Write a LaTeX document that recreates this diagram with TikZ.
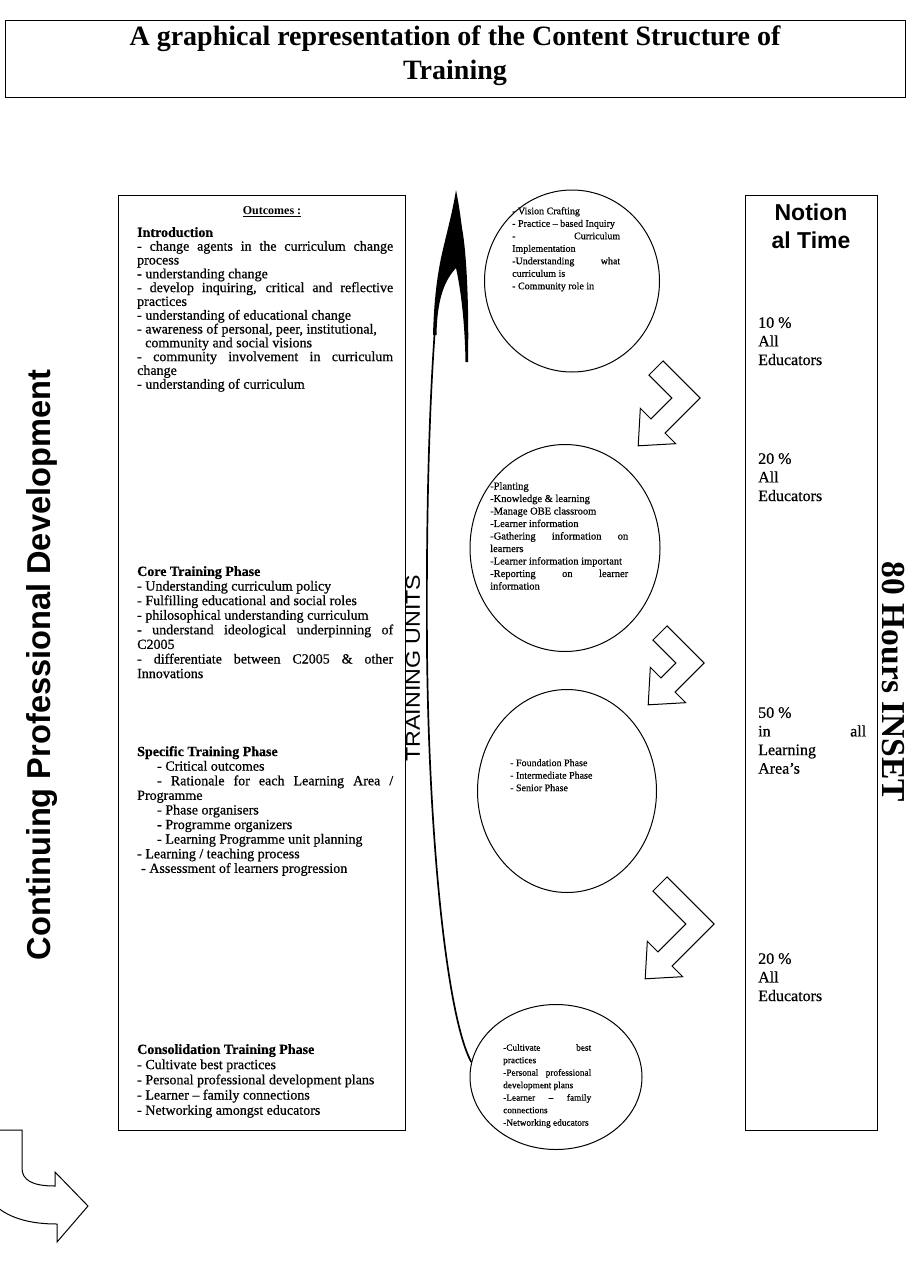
\documentclass[tikz,border=0pt]{standalone}
\usepackage{fontspec}
\setmainfont{Liberation Serif}
\newfontfamily\scan{Liberation Serif}[FakeBold=0.6]
\newfontfamily\arialfont{Liberation Sans}
\usetikzlibrary{shapes.geometric}
\newcommand\jl[2]{\makebox[#1][s]{#2}}
% chevron block arrow: #1,#2 origin, #3 first leg, #4 second leg
\newcommand\chev[4]{%
\begin{scope}[shift={(#1,#2)}]
\draw[harrow] (7.07,-7.07) -- ({#3+14.14},{#3}) -- ({#3-#4+7.07},{#3+#4+7.07})
 -- ({#3-#4+17.68},{#3+#4+17.68}) -- ({#3-#4-19.8},{#3+#4+19.8})
 -- ({#3-#4-17.68},{#3+#4-17.68}) -- ({#3-#4-7.07},{#3+#4-7.07})
 -- ({#3-14.14},{#3}) -- (-7.07,7.07) -- cycle;
\end{scope}}
\begin{document}
\begin{tikzpicture}[x=1pt,y=-1pt,
  box/.style={draw, line width=1.1pt, inner sep=0pt, anchor=north west},
  body/.style={anchor=north west, inner sep=0pt, align=left, font=\scan\fontsize{14}{14.6}\selectfont},
  ctext/.style={anchor=north west, inner sep=0pt, align=left, font=\scan\fontsize{10}{12.5}\selectfont},
  rtext/.style={anchor=north west, inner sep=0pt, align=left, font=\scan\fontsize{16}{18.6}\selectfont},
  blob/.style={draw, line width=1pt, ellipse, inner sep=0pt},
  harrow/.style={draw, line width=1pt, fill=white, line join=miter},
]
\useasboundingbox (0,0) rectangle (909,1285);
\fill[white] (0,0) rectangle (909,1285);

% title
\node[box, line width=1.3pt, minimum width=900pt, minimum height=77pt] (title) at (5,20) {};
\node[inner sep=0pt, align=center, font=\bfseries\fontsize{28}{34}\selectfont] (ttext) at (455,56)
 {A graphical representation of the Content Structure of\\Training};

% left box
\node[box, minimum width=287pt, minimum height=935pt] (leftbox) at (118,195) {};
\node[inner sep=0pt, font=\bfseries\fontsize{12}{14}\selectfont] (outc) at (272,212) {\underline{Outcomes :}};

\node[body, font=\scan\fontsize{14}{13.8}\selectfont] (intro) at (137,227) {\textbf{Introduction}\\
\jl{256pt}{- change agents in the curriculum change}\\
process\\
- understanding change\\
\jl{256pt}{- develop inquiring, critical and reflective}\\
practices\\
- understanding of educational change\\
- awareness of personal, peer, institutional,\\
\hspace*{8pt}community and social visions\\
\jl{256pt}{- community involvement in curriculum}\\
change\\
- understanding of curriculum};

\node[body] (core) at (137,566) {\textbf{Core Training Phase}\\
- Understanding curriculum policy\\
- Fulfilling educational and social roles\\
- philosophical understanding curriculum\\
\jl{256pt}{- understand ideological underpinning of}\\
C2005\\
\jl{256pt}{- differentiate between C2005 \& other}\\
Innovations};

\node[body] (spec) at (137,746) {\textbf{Specific Training Phase}\\
\hspace*{20pt}- Critical outcomes\\
\hspace*{20pt}\jl{236pt}{- Rationale for each Learning Area /}\\
Programme\\
\hspace*{20pt}- Phase organisers\\
\hspace*{20pt}- Programme organizers\\
\hspace*{20pt}- Learning Programme unit planning\\
- Learning / teaching process\\
\hspace*{4pt}- Assessment of learners progression};

\node[body, font=\scan\fontsize{14}{15.2}\selectfont] (cons) at (137,1044) {\textbf{Consolidation Training Phase}\\
- Cultivate best practices\\
- Personal professional development plans\\
- Learner – family connections\\
- Networking amongst educators};

% side labels
\node[rotate=90, inner sep=0pt] (cpd) at (42,665)
 {\resizebox*{590pt}{31pt}{\arialfont\bfseries Continuing Professional Development}};
\node[rotate=90, inner sep=0pt] (tu) at (413,668)
 {\resizebox{187pt}{14pt}{\arialfont TRAINING UNITS}};

% right box
\node[box, minimum width=132pt, minimum height=935pt] (rightbox) at (745,195) {};
\node[inner sep=0pt, align=center, font=\arialfont\bfseries\fontsize{23}{28}\selectfont] (notion) at (811,226) {Notion\\al Time};
\node[rtext] (r1) at (758,317) {10 \%\\All\\Educators};
\node[rtext] (r2) at (758,453) {20 \%\\All\\Educators};
\node[rtext] (r3) at (758,707) {50 \%\\\jl{108pt}{in all}\\Learning\\Area’s};
\node[rtext] (r4) at (758,953) {20 \%\\All\\Educators};
\node[rotate=-90, inner sep=0pt] (inset) at (893,682)
 {\resizebox{240pt}{!}{\bfseries 80 Hours INSET}};

% circles
\node[blob, minimum width=175pt, minimum height=182pt] (c1) at (572,281) {};
\node[blob, minimum width=190pt, minimum height=207pt] (c2) at (565,548) {};
\node[blob, minimum width=179pt, minimum height=203pt] (c3) at (567,791) {};
\node[blob, minimum width=172pt, minimum height=145pt] (c4) at (556,1077) {};

\node[ctext] (t1) at (512,207) {- Vision Crafting\\
- Practice – based Inquiry\\
\jl{108pt}{- \hfill Curriculum}\\
Implementation\\
\jl{108pt}{-Understanding \hfill what}\\
curriculum is\\
- Community role in};

\node[ctext, font=\scan\fontsize{10.5}{12.5}\selectfont] (t2) at (490,482) {-Planting\\
-Knowledge \& learning\\
-Manage OBE classroom\\
-Learner information\\
\jl{138pt}{-Gathering information on}\\
learners\\
-Learner information important\\
\jl{138pt}{-Reporting on learner}\\
information};

\node[ctext] (t3) at (510,759) {- Foundation Phase\\
- Intermediate Phase\\
- Senior Phase};

\node[ctext, font=\scan\fontsize{9.3}{12.5}\selectfont] (t4) at (503,1044) {\jl{88pt}{-Cultivate best}\\
practices\\
\jl{88pt}{-Personal professional}\\
development plans\\
\jl{88pt}{-Learner – family}\\
connections\\
-Networking educators};

% block arrows between circles
\chev{656}{368}{30}{28}
\chev{660}{633}{30}{22}
\chev{660}{884}{40}{35}

% bottom-left arrow
\draw[harrow] (-3,1130) -- (22,1130) -- (22,1168) .. controls (22,1180) and (32,1186) .. (55,1186)
  -- (55,1172) -- (88,1206) -- (57,1242) -- (57,1224) .. controls (30,1224) and (10,1218) .. (-3,1207) -- cycle;

% swoosh arrow
\coordinate (bladeend) at (434.5,335);
\fill (456,190) .. controls (452,215) and (446,235) .. (441,258) .. controls (437,278) and (434,300) .. (433,335)
  -- (436.5,335) .. controls (437,305) and (442,283) .. (456,268)
  .. controls (462,295) and (465,330) .. (465.5,362) -- (468,362)
  .. controls (469,310) and (467,255) .. (462,228) .. controls (460,212) and (458,200) .. (456,190) -- cycle;
\draw[line width=1.7pt] (c4.170) .. controls (448,1020) and (429,850) .. (427,650)
  .. controls (426,500) and (430,400) .. (bladeend);
\end{tikzpicture}
\end{document}
